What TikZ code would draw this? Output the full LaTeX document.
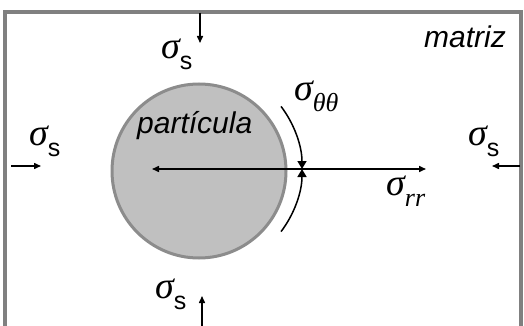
\documentclass[tikz,border=0pt]{standalone}
\usepackage{fontspec}
\setmainfont{Liberation Sans}
\newfontfamily\sigfont{Liberation Serif}
\usetikzlibrary{arrows.meta}
\definecolor{framegray}{HTML}{808080}
\definecolor{partfill}{HTML}{C0C0C0}
\definecolor{partedge}{HTML}{8C8C8C}
\newcommand{\sgm}{{\sigfont\itshape\fontsize{38}{38}\selectfont σ}}
\newcommand{\subS}{\raisebox{-11pt}{\fontsize{25}{25}\selectfont s}}
\newcommand{\subIt}[1]{\raisebox{-11pt}{\sigfont\itshape\fontsize{26}{26}\selectfont #1}}
\tikzset{
  lbl/.style={inner sep=0pt, anchor=base west},
  force/.style={line width=1.5pt, -{Triangle[length=7pt,width=6pt]}},
  stress/.style={line width=1.5pt, -{Triangle[length=8pt,width=9pt]}},
  word/.style={inner sep=0pt, anchor=base west, font=\fontsize{30}{30}\selectfont\itshape}
}
\begin{document}
\begin{tikzpicture}[x=1pt,y=-1pt]
\useasboundingbox (0,0) rectangle (524,326);
% frame (matrix)
\draw[framegray, line width=3.5pt] (5,326) -- (5,12) -- (521,12) -- (521,326);
% particle
\node[circle, draw=partedge, fill=partfill, line width=3pt, minimum size=174pt, inner sep=0pt] (p) at (199,171) {};
\node[word] (lpart) at (137,133) {partícula};
\node[word] (lmat) at (424,48) {matriz};
% radial line and arrows
\coordinate (o) at (302,169);
\coordinate (cin) at (152,169);
\coordinate (cout) at (426,169);
\draw[force] (o) -- (cin);
\draw[force] (o) -- (cout);
% tangential arcs
\coordinate (c) at (198,169);
\draw[stress] ([shift={(37:104)}]c) arc[start angle=37, end angle=0, radius=104];
\draw[stress] ([shift={(-37:104)}]c) arc[start angle=-37, end angle=0, radius=104];
% remote stresses
\coordinate (t1) at (200,13);
\coordinate (t2) at (200,43);
\draw[force] (t1) -- (t2);
\coordinate (b1) at (202,326);
\coordinate (b2) at (202,296);
\draw[force] (b1) -- (b2);
\coordinate (l1) at (11,166);
\coordinate (l2) at (41,166);
\draw[force] (l1) -- (l2);
\coordinate (r1) at (520,166);
\coordinate (r2) at (492,166);
\draw[force] (r1) -- (r2);
% labels
\node[lbl] (st) at (161,59) {\sgm\subS};
\node[lbl] (sl) at (29,145) {\sgm\subS};
\node[lbl] (sr) at (468,145) {\sgm\subS};
\node[lbl] (sb) at (155,298) {\sgm\subS};
\node[lbl] (stt) at (294,100) {\sgm\subIt{θθ}};
\node[lbl] (srr) at (386,195) {\sgm\subIt{rr}};
\end{tikzpicture}
\end{document}
